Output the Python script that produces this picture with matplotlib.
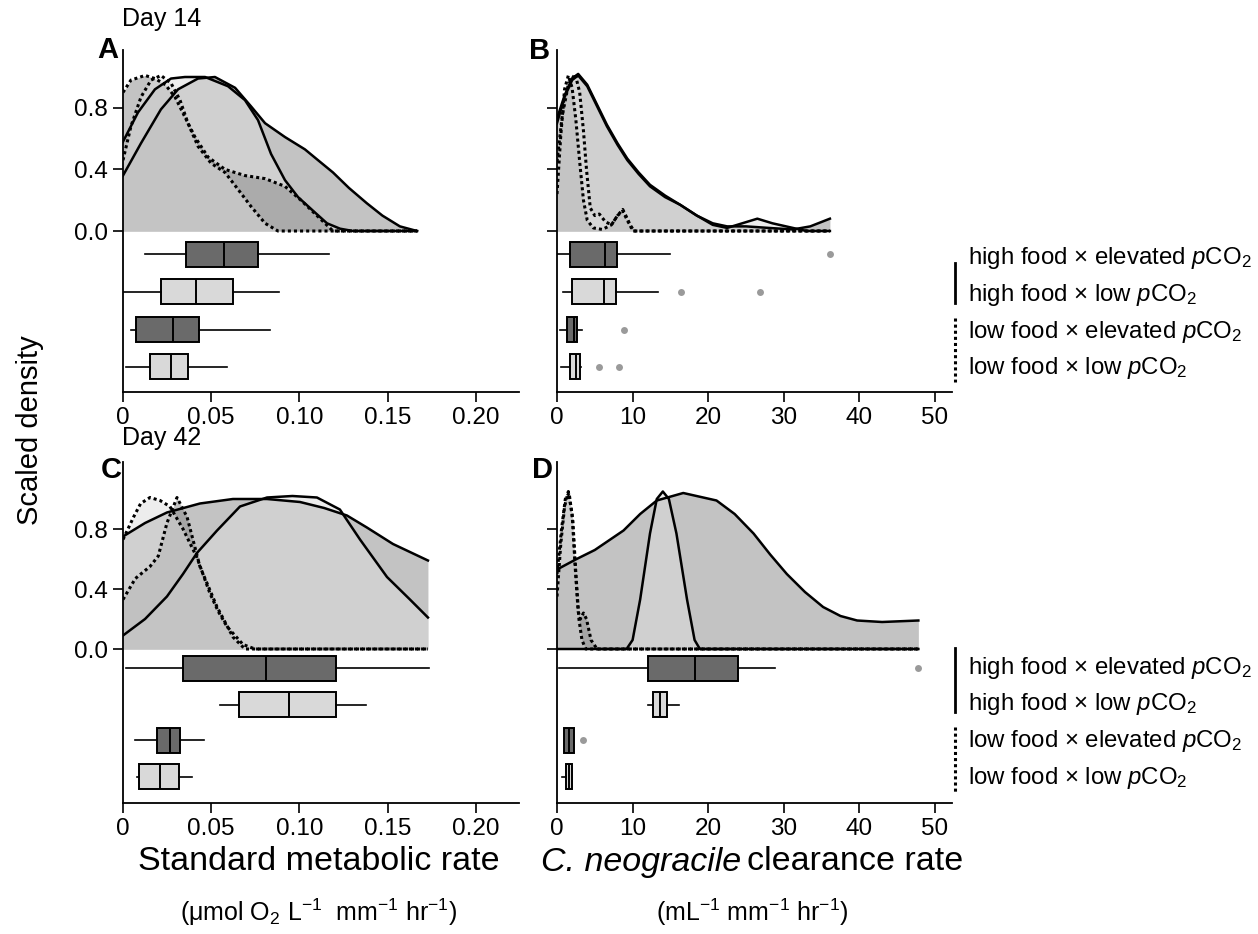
import matplotlib.pyplot as plt
from matplotlib.lines import Line2D

plt.rcParams['font.family'] = ['Liberation Sans', 'DejaVu Sans']
plt.rcParams['mathtext.fontset'] = 'custom'
plt.rcParams['mathtext.rm'] = 'Liberation Sans'
plt.rcParams['mathtext.it'] = 'Liberation Sans:italic'
plt.rcParams['mathtext.bf'] = 'Liberation Sans:bold'

groups = ["HE", "HL", "LE", "LL"]
group_labels = [r"high food × elevated $p$CO$_2$",
                r"high food × low $p$CO$_2$",
                r"low food × elevated $p$CO$_2$",
                r"low food × low $p$CO$_2$"]

# scaled density curves: (x, y)
dens_A = {
    "HE": ([0, 0.0102, 0.0215, 0.0312, 0.0425, 0.0521, 0.0635, 0.0725, 0.0805, 0.0918, 0.1031, 0.1105,
            0.119, 0.128, 0.1382, 0.147, 0.1569, 0.1666],
           [0.36, 0.57, 0.79, 0.92, 0.99, 1.0, 0.93, 0.81, 0.70, 0.61, 0.53, 0.46,
            0.38, 0.28, 0.18, 0.10, 0.03, 0.0]),
    "HL": ([0, 0.0085, 0.0181, 0.0272, 0.0351, 0.0465, 0.0595, 0.0691, 0.0765, 0.0839, 0.0918, 0.0992,
            0.1088, 0.1156, 0.1230, 0.1303, 0.1666],
           [0.58, 0.77, 0.92, 0.99, 1.0, 1.0, 0.94, 0.85, 0.72, 0.5, 0.33, 0.22,
            0.12, 0.05, 0.015, 0.0, 0.0]),
    "LE": ([0, 0.0045, 0.0125, 0.0181, 0.0240, 0.0295, 0.0351, 0.0408, 0.0482, 0.0578, 0.0691, 0.0805,
            0.0918, 0.1008, 0.1099, 0.119, 0.1666],
           [0.9, 0.98, 1.01, 0.99, 0.95, 0.87, 0.74, 0.61, 0.48, 0.40, 0.36, 0.34,
            0.29, 0.20, 0.10, 0.0, 0.0]),
    "LL": ([0, 0.0045, 0.0102, 0.0159, 0.0215, 0.0272, 0.0323, 0.0368, 0.0425, 0.0499, 0.0578, 0.0652,
            0.0725, 0.0805, 0.0878, 0.1666],
           [0.46, 0.68, 0.87, 0.98, 1.01, 0.96, 0.85, 0.70, 0.55, 0.44, 0.38, 0.27,
            0.16, 0.05, 0.0, 0.0]),
}
dens_B = {
    "HE": ([0, 1, 2, 2.8, 4, 5.3, 6.6, 8, 9.3, 10.8, 12.3, 14.3, 16.3, 18.5, 20.6, 22.5, 25, 28, 31.2, 33.5, 36.1],
           [0.73, 0.88, 0.99, 1.02, 0.95, 0.82, 0.69, 0.57, 0.47, 0.38, 0.30, 0.23, 0.17, 0.10, 0.05, 0.03,
            0.03, 0.02, 0.01, 0.03, 0.08]),
    "HL": ([0, 1, 2, 2.8, 4, 5.3, 6.6, 8, 9.3, 10.8, 12.3, 14.3, 16.3, 18.5, 20.6, 22.5, 24.5, 26.5, 28.5,
            31.2, 33, 36.1],
           [0.70, 0.87, 0.98, 1.01, 0.94, 0.81, 0.68, 0.56, 0.46, 0.37, 0.29, 0.22, 0.17, 0.10, 0.04, 0.02,
            0.05, 0.08, 0.05, 0.02, 0.0, 0.0]),
    "LE": ([0, 0.5, 1.0, 1.5, 2.0, 2.5, 3.0, 3.5, 4.0, 4.8, 6.0, 7.2, 8.0, 8.7, 9.4, 10.2, 36.1],
           [0.24, 0.62, 0.92, 1.01, 0.93, 0.72, 0.45, 0.2, 0.07, 0.02, 0.01, 0.04, 0.1, 0.13, 0.06, 0.0, 0.0]),
    "LL": ([0, 0.7, 1.5, 2.4, 3.0, 3.5, 3.9, 4.4, 5.0, 5.6, 6.4, 7.2, 8.0, 8.7, 9.4, 10.0, 36.1],
           [0.45, 0.75, 0.95, 1.02, 0.9, 0.65, 0.4, 0.15, 0.1, 0.11, 0.06, 0.04, 0.1, 0.14, 0.07, 0.0, 0.0]),
}
dens_C = {
    "HE": ([0, 0.0125, 0.0249, 0.0436, 0.0623, 0.0816, 0.1003, 0.1140, 0.1269, 0.1382, 0.153, 0.1728],
           [0.75, 0.84, 0.91, 0.97, 1.0, 1.0, 0.98, 0.94, 0.89, 0.81, 0.70, 0.59]),
    "HL": ([0, 0.0125, 0.0249, 0.0340, 0.0419, 0.0533, 0.0663, 0.0816, 0.0960, 0.1099, 0.1229, 0.1343,
            0.1496, 0.1626, 0.1728],
           [0.09, 0.2, 0.35, 0.5, 0.64, 0.79, 0.95, 1.01, 1.02, 1.01, 0.93, 0.73, 0.48, 0.33, 0.21]),
    "LE": ([0, 0.007, 0.0153, 0.020, 0.0249, 0.0306, 0.0363, 0.0436, 0.0533, 0.0623, 0.0691, 0.1728],
           [0.33, 0.47, 0.55, 0.62, 0.84, 1.01, 0.88, 0.55, 0.28, 0.08, 0.0, 0.0]),
    "LL": ([0, 0.006, 0.010, 0.0153, 0.021, 0.0266, 0.034, 0.0419, 0.0493, 0.054, 0.0589, 0.068, 0.0748, 0.1728],
           [0.73, 0.88, 0.97, 1.01, 0.99, 0.95, 0.80, 0.61, 0.37, 0.25, 0.15, 0.03, 0.0, 0.0]),
}
dens_D = {
    "HE": ([0, 2.6, 5, 8.8, 11, 13.2, 16.7, 21.1, 23.5, 26, 28.2, 30.4, 32.8, 35.2, 37.5, 39.7, 43, 47.8],
           [0.53, 0.6, 0.66, 0.79, 0.9, 0.99, 1.04, 0.99, 0.9, 0.77, 0.63, 0.5, 0.38, 0.28, 0.22, 0.19,
            0.18, 0.19]),
    "HL": ([0, 9.2, 10.0, 11, 12.3, 13.2, 14, 14.8, 15.8, 17.2, 18.2, 18.9, 47.8],
           [0, 0, 0.06, 0.33, 0.77, 1.0, 1.05, 1.0, 0.77, 0.33, 0.06, 0.0, 0.0]),
    "LE": ([0, 0.5, 1.0, 1.5, 2.0, 2.4, 2.8, 3.1, 3.5, 3.9, 4.5, 5.3, 47.8],
           [0.35, 0.7, 0.95, 1.05, 0.9, 0.55, 0.25, 0.2, 0.24, 0.2, 0.06, 0.0, 0.0]),
    "LL": ([0, 0.6, 1.1, 1.6, 2.1, 2.5, 2.9, 3.3, 3.8, 47.8],
           [0.5, 0.8, 1.0, 1.04, 0.85, 0.5, 0.2, 0.06, 0.0, 0.0]),
}

# boxplot stats: whisker low, q1, median, q3, whisker high
box_A = {"HE": [0.0125, 0.0357, 0.0572, 0.0765, 0.117], "HL": [0.0006, 0.0215, 0.0414, 0.0623, 0.0884],
         "LE": [0.0045, 0.0074, 0.0283, 0.0431, 0.0833], "LL": [0.0017, 0.0153, 0.0272, 0.0368, 0.0589]}
fliers_A = {"HE": [], "HL": [], "LE": [], "LL": []}
box_B = {"HE": [0.05, 1.7, 6.35, 8.0, 15.0], "HL": [0.8, 2.0, 6.2, 7.8, 13.3],
         "LE": [0.4, 1.3, 2.2, 2.6, 3.3], "LL": [0.5, 1.7, 2.5, 3.0, 3.2]}
fliers_B = {"HE": [36.1], "HL": [16.4, 26.8], "LE": [8.8], "LL": [5.6, 8.2]}
box_C = {"HE": [0.0017, 0.0342, 0.0809, 0.1205, 0.1734], "HL": [0.055, 0.0659, 0.0942, 0.1207, 0.1375],
         "LE": [0.0066, 0.0191, 0.0266, 0.0323, 0.0459], "LL": [0.0078, 0.0092, 0.021, 0.0319, 0.0389]}
fliers_C = {"HE": [], "HL": [], "LE": [], "LL": []}
box_D = {"HE": [0.2, 12.0, 18.2, 23.9, 28.9], "HL": [12.1, 12.7, 13.6, 14.5, 16.2],
         "LE": [0.97, 0.97, 1.6, 2.2, 2.2], "LL": [0.6, 1.2, 1.6, 2.0, 2.0]}
fliers_D = {"HE": [47.7], "HL": [], "LE": [3.5], "LL": []}

smr_ticks = [0, 0.05, 0.10, 0.15, 0.20]
smr_ticklabels = ["0", "0.05", "0.10", "0.15", "0.20"]
clr_ticks = [0, 10, 20, 30, 40, 50]
clr_ticklabels = ["0", "10", "20", "30", "40", "50"]
dens_ticks = [0, 0.4, 0.8]
dens_ticklabels = ["0.0", "0.4", "0.8"]

W, H = 1258, 934
fig = plt.figure(figsize=(W / 100, H / 100), dpi=100)

fill_col = {"HE": "#888888", "HL": "#dddddd", "LE": "#888888", "LL": "#dddddd"}
line_style = {"HE": "-", "HL": "-", "LE": (0, (1, 1)), "LL": (0, (1, 1))}
box_col = {"HE": "#6a6a6a", "HL": "#d9d9d9", "LE": "#6a6a6a", "LL": "#d9d9d9"}


def fx(px):
    return px / W


def fy(py):
    return 1 - py / H


def make_ax(left, right, top, bottom):
    return fig.add_axes([fx(left), fy(bottom), (right - left) / W, (bottom - top) / H])


def draw_panel(ax, dens, boxes, fliers, xmax, ylim, box_pos, box_h, xticks, xticklabels, show_ylab):
    for g in groups:
        x, y = dens[g]
        ax.fill_between(x, 0, y, color=fill_col[g], alpha=0.5, lw=0)
        ax.plot(x, y, color="black", lw=1.8 if g in ("HE", "HL") else 2.2, ls=line_style[g])
    stats = []
    for g in groups:
        wl, q1, med, q3, wh = boxes[g]
        stats.append(dict(whislo=wl, q1=q1, med=med, q3=q3, whishi=wh, fliers=fliers[g]))
    bp = ax.bxp(stats, positions=box_pos, widths=box_h, orientation="horizontal", patch_artist=True,
                showcaps=False, manage_ticks=False,
                boxprops=dict(lw=1.4, edgecolor="black"),
                medianprops=dict(color="black", lw=1.4),
                whiskerprops=dict(color="black", lw=1.2),
                flierprops=dict(marker="o", markerfacecolor="#9a9a9a", markeredgecolor="none", markersize=5))
    for patch, g in zip(bp["boxes"], groups):
        patch.set_facecolor(box_col[g])
    ax.set_xlim(0, xmax)
    ax.set_ylim(*ylim)
    ax.set_xticks(xticks)
    ax.set_xticklabels(xticklabels)
    ax.set_yticks(dens_ticks)
    ax.set_yticklabels(dens_ticklabels if show_ylab else [])
    for s in ("top", "right"):
        ax.spines[s].set_visible(False)
    for s in ("left", "bottom"):
        ax.spines[s].set_linewidth(1.3)
    ax.tick_params(axis="both", direction="out", length=7, width=1.2, labelsize=17.5, pad=4)
    ax.patch.set_alpha(0)


top_ylim = (-(392 - 231) / 154, (231 - 50) / 154)
top_pos = [-0.15, -0.395, -0.64, -0.88]
bot_ylim = (-(803 - 649) / 150, (649 - 462) / 150)
bot_pos = [-0.127, -0.373, -0.607, -0.853]

axA = make_ax(123, 519, 50, 392)
draw_panel(axA, dens_A, box_A, fliers_A, 0.2244, top_ylim, top_pos, 0.162,
           smr_ticks, smr_ticklabels, True)
axB = make_ax(557, 952, 50, 392)
draw_panel(axB, dens_B, box_B, fliers_B, 52.25, top_ylim, top_pos, 0.162,
           clr_ticks, clr_ticklabels, False)
axC = make_ax(123, 519, 462, 803)
draw_panel(axC, dens_C, box_C, fliers_C, 0.2244, bot_ylim, bot_pos, 0.167,
           smr_ticks, smr_ticklabels, True)
axD = make_ax(557, 952, 462, 803)
draw_panel(axD, dens_D, box_D, fliers_D, 52.25, bot_ylim, bot_pos, 0.167,
           clr_ticks, clr_ticklabels, False)

# panel letters and day titles
for letter, px, py in [("A", 108, 50), ("B", 540, 51), ("C", 111, 470), ("D", 543, 470)]:
    fig.text(fx(px), fy(py), letter, fontsize=21, fontweight="bold", ha="center", va="center")
fig.text(fx(122), fy(19), "Day 14", fontsize=18, ha="left", va="center")
fig.text(fx(122), fy(438), "Day 42", fontsize=18, ha="left", va="center")

fig.text(fx(30), fy(430), "Scaled density", fontsize=21, rotation=90, ha="center", va="center")

fig.text(fx(319), fy(862), "Standard metabolic rate", fontsize=24.5, ha="center", va="center")
fig.text(fx(319), fy(912), r"(μmol O$_2$ L$^{-1}$  mm$^{-1}$ hr$^{-1}$)", fontsize=18,
         ha="center", va="center")
fig.text(fx(741), fy(862), "C. neogracile", fontsize=24.5, fontstyle="italic", ha="right", va="center")
fig.text(fx(747), fy(862), "clearance rate", fontsize=24.5, ha="left", va="center")
fig.text(fx(752), fy(912), r"(mL$^{-1}$ mm$^{-1}$ hr$^{-1}$)", fontsize=18, ha="center", va="center")

# legends at the right of B and D
for ys, solid_span, dot_span in [([258, 295, 332, 368], (263, 303), (318, 382)),
                                 ([668, 704, 741, 778], (648, 712), (727, 792))]:
    for lab, yy in zip(group_labels, ys):
        fig.text(fx(968), fy(yy), lab, fontsize=17.3, ha="left", va="center")
    fig.add_artist(Line2D([fx(955), fx(955)], [fy(solid_span[0]), fy(solid_span[1])],
                          color="black", lw=2, transform=fig.transFigure))
    fig.add_artist(Line2D([fx(955), fx(955)], [fy(dot_span[0]), fy(dot_span[1])],
                          color="black", lw=2.2, ls=(0, (1, 1)), transform=fig.transFigure))

fig.savefig("out.png", dpi=100)
